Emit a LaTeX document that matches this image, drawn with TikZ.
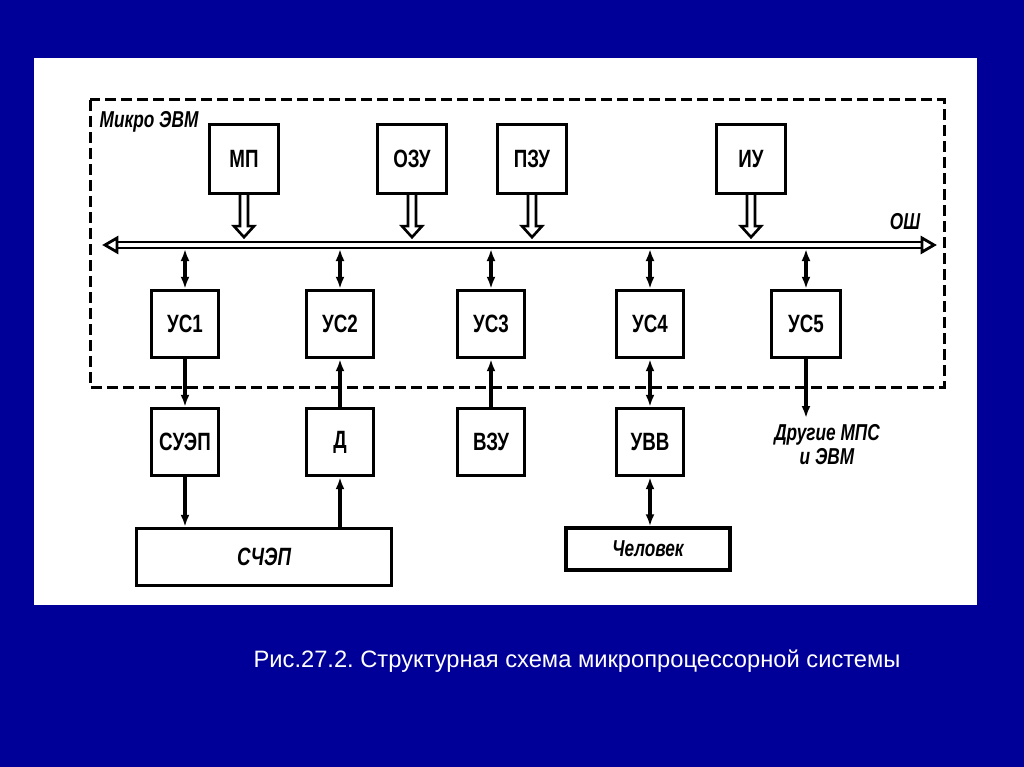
\documentclass[tikz,border=0pt]{standalone}
\usepackage{fontspec}
\setmainfont{Liberation Sans}
\newfontfamily\diagfont[FakeStretch=0.75]{Liberation Sans}
\usetikzlibrary{arrows.meta}
\definecolor{slideblue}{RGB}{0,0,153}
\frenchspacing
\tikzset{
  blk/.style={draw=black, line width=3.4pt, fill=white, inner sep=0pt,
    minimum width=67pt, minimum height=67pt,
    font=\diagfont\bfseries\fontsize{25}{27}\selectfont},
  lbl/.style={font=\diagfont\bfseries\itshape\fontsize{23}{25}\selectfont, inner sep=0pt},
  arr/.style={line width=3.1pt, -{Latex[length=12pt,width=9pt]}},
  dbl/.style={line width=3.1pt, {Latex[length=12pt,width=9pt]}-{Latex[length=12pt,width=9pt]}},
  hollow/.style={line width=2.6pt, fill=white, line join=miter},
  busline/.style={line width=2.8pt},
  frame/.style={line width=3pt, dash pattern=on 11pt off 5pt}
}
\begin{document}
\begin{tikzpicture}[x=1pt,y=-1pt]
\useasboundingbox (0,0) rectangle (1024,767);
\fill[slideblue] (0,0) rectangle (1024,767);
\fill[white] (34,58) rectangle (977,605);

% dashed frame
\draw[frame] (90,100) rectangle (944,387);
\node[lbl] (mikro) at (149,122) {Микро ЭВМ};

% top row
\node[blk, minimum width=69pt, minimum height=69pt] (mp) at (244,159) {МП};
\node[blk, minimum width=69pt, minimum height=69pt] (ozu) at (412,159) {ОЗУ};
\node[blk, minimum width=69pt, minimum height=69pt] (pzu) at (532,159) {ПЗУ};
\node[blk, minimum width=69pt, minimum height=69pt] (iu) at (751,159) {ИУ};

% bus
\coordinate (busL) at (105,245);
\coordinate (busR) at (934,245);
\coordinate (busB) at (0,249);
\draw[busline] ([shift={(12,-3)}]busL) -- ([shift={(-12,-3)}]busR);
\draw[busline] ([shift={(12,3)}]busL) -- ([shift={(-12,3)}]busR);
\draw[busline, fill=white] (busL) -- ++(12,-7) -- ++(0,14) -- cycle;
\draw[busline, fill=white] (busR) -- ++(-12,-7) -- ++(0,14) -- cycle;
\node[lbl] (osh) at (905,222) {ОШ};

% hollow arrows to bus
\foreach \n in {mp,ozu,pzu,iu}{
  \draw[hollow] ([xshift=-4pt]\n.south) -- ++(0,31) -- ++(-6,0) -- ++(10,11)
     -- ++(10,-11) -- ++(-6,0) -- ([xshift=4pt]\n.south);
}

% interface row
\node[blk] (us1) at (185,324) {УС1};
\node[blk] (us2) at (340,324) {УС2};
\node[blk] (us3) at (491,324) {УС3};
\node[blk] (us4) at (650,324) {УС4};
\node[blk, minimum width=69pt] (us5) at (806,324) {УС5};

\foreach \n in {us1,us2,us3,us4,us5}{
  \draw[dbl] (\n.north |- busB) -- (\n.north);
}

% device row
\node[blk] (suep) at (185,442) {СУЭП};
\node[blk] (d) at (340,442) {Д};
\node[blk] (vzu) at (491,442) {ВЗУ};
\node[blk] (uvv) at (650,442) {УВВ};

\node[blk, minimum width=255pt, minimum height=57pt,
      font=\diagfont\bfseries\itshape\fontsize{25}{27}\selectfont] (schep) at (264,557) {СЧЭП};
\node[blk, minimum width=164pt, minimum height=42pt,
      font=\diagfont\bfseries\itshape\fontsize{23}{25}\selectfont] (chel) at (648,549) {Человек};

\coordinate (out5) at (806,418);
\node[lbl, align=center] (other) at (827,445) {Другие МПС\\[-1pt]и ЭВМ};

% connectors
\draw[arr] (us1) -- (suep);
\draw[arr] (suep) -- (suep |- schep.north);
\draw[arr] (d.south |- schep.north) -- (d);
\draw[arr] (d) -- (us2);
\draw[arr] (vzu) -- (us3);
\draw[dbl] (us4) -- (uvv);
\draw[dbl] (uvv) -- (uvv |- chel.north);
\draw[arr] (us5) -- (out5);

% caption
\node[text=white, font=\fontsize{23.7}{26}\selectfont, anchor=base] (cap) at (577,667)
  {Рис.27.2. Структурная схема микропроцессорной системы};
\end{tikzpicture}
\end{document}
